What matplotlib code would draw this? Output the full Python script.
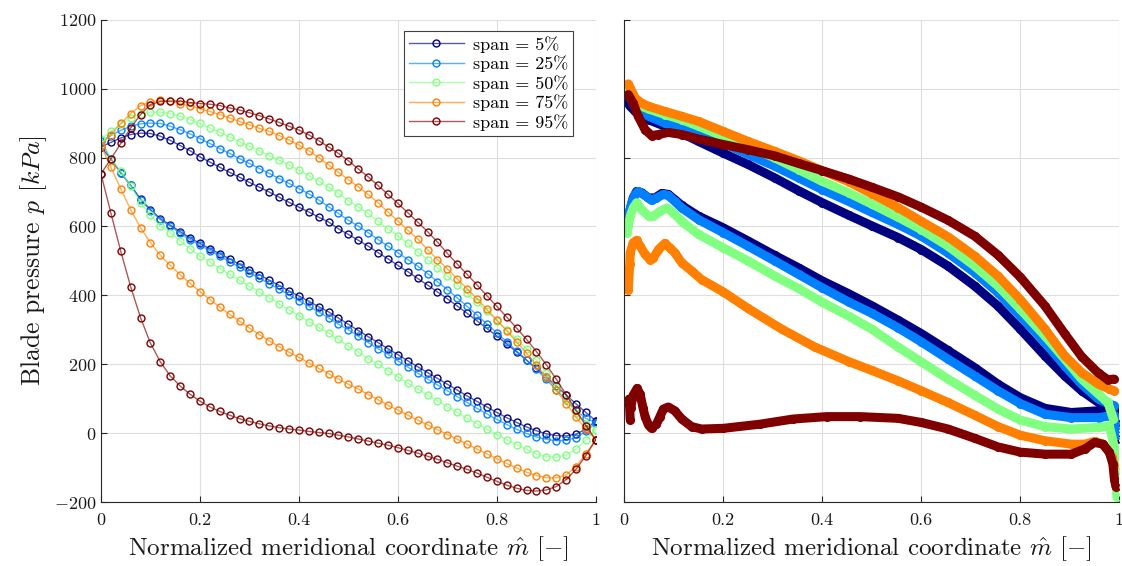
import numpy as np
import matplotlib
matplotlib.use('Agg')
import matplotlib.pyplot as plt

# Blade loading at five spans: left = coarse grid, right = fine grid

plt.rcParams['font.family'] = 'serif'
plt.rcParams['font.serif'] = ['cmr10']
plt.rcParams['mathtext.fontset'] = 'cm'
plt.rcParams['axes.formatter.use_mathtext'] = True

spans = ['5', '25', '50', '75', '95']
colors = ['#000080', '#0080ff', '#80ff80', '#ff8000', '#800000']

###### left panel (51 points, pressure side / suction side) ######
m_left = np.linspace(0, 1, 51)

L5_ps = [831, 844, 857, 867, 871, 870, 862, 850, 835, 820, 802, 787, 772, 757, 743, 728, 714, 700, 685, 670,
         656, 642, 627, 613, 593, 577, 560, 543, 524, 506, 487, 469, 449, 430, 410, 390, 369, 348, 326, 304,
         282, 259, 236, 212, 188, 163, 137, 111, 85, 60, 36]
L5_ss = [831, 796, 756, 719, 680, 649, 623, 604, 585, 567, 551, 535, 521, 506, 490, 475, 460, 444, 429, 413,
         398, 383, 367, 352, 334, 316, 298, 280, 263, 245, 228, 210, 193, 176, 159, 142, 125, 108, 92, 76,
         60, 45, 31, 18, 7, -2, -7, -8, -3, 12, 36]
L25_ps = [847, 864, 879, 891, 898, 900, 899, 891, 881, 869, 855, 841, 826, 812, 797, 783, 768, 754, 739, 725,
          710, 695, 677, 657, 638, 618, 601, 582, 562, 543, 524, 504, 485, 463, 440, 417, 393, 368, 343, 317,
          291, 265, 239, 212, 185, 156, 126, 96, 66, 43, 30]
L25_ss = [847, 796, 756, 719, 678, 646, 620, 601, 580, 562, 545, 530, 514, 498, 482, 466, 450, 434, 418, 401,
          385, 368, 352, 335, 316, 300, 281, 263, 245, 229, 210, 192, 174, 157, 140, 123, 106, 89, 72, 56,
          40, 25, 11, -1, -11, -18, -22, -21, -13, 5, 30]
L50_ps = [855, 876, 898, 915, 928, 932, 932, 928, 920, 910, 899, 886, 873, 860, 846, 833, 819, 806, 792, 779,
          764, 748, 732, 714, 696, 675, 657, 638, 615, 593, 572, 551, 527, 504, 480, 456, 431, 406, 380, 354,
          327, 300, 272, 244, 212, 175, 135, 95, 58, 28, 10]
L50_ss = [855, 796, 760, 717, 669, 633, 601, 582, 558, 536, 514, 497, 478, 461, 444, 427, 410, 393, 376, 358,
          341, 324, 307, 290, 272, 253, 236, 216, 200, 181, 163, 145, 128, 111, 94, 77, 60, 43, 27, 11,
          -4, -19, -33, -47, -60, -68, -70, -63, -46, -20, 10]
L75_ps = [835, 867, 899, 928, 951, 962, 966, 963, 957, 950, 942, 934, 925, 915, 905, 895, 885, 876, 864, 851,
          836, 820, 800, 779, 757, 736, 715, 693, 669, 642, 616, 589, 564, 533, 504, 477, 448, 419, 390, 359,
          328, 297, 265, 232, 198, 162, 124, 86, 47, 12, -19]
L75_ss = [835, 772, 709, 649, 596, 553, 516, 487, 460, 435, 411, 388, 366, 345, 325, 305, 286, 268, 251, 235,
          220, 204, 188, 173, 157, 142, 128, 112, 97, 81, 67, 52, 38, 24, 10, -4, -18, -32, -46, -60,
          -74, -88, -101, -113, -123, -129, -130, -121, -97, -60, -19]
L95_ps = [753, 796, 841, 886, 925, 954, 963, 964, 964, 960, 957, 955, 951, 944, 938, 930, 922, 912, 902, 891,
          880, 866, 849, 831, 812, 791, 767, 744, 719, 693, 667, 640, 613, 585, 555, 522, 491, 461, 430, 399,
          368, 337, 305, 272, 237, 199, 157, 112, 66, 22, -19]
L95_ss = [753, 639, 528, 425, 335, 261, 207, 166, 137, 113, 93, 76, 63, 52, 42, 34, 27, 21, 16, 12,
          9, 5, 2, -1, -6, -11, -17, -23, -29, -35, -42, -50, -58, -67, -76, -86, -96, -105, -116, -128,
          -140, -151, -160, -166, -168, -165, -155, -135, -105, -65, -19]

###### right panel (fine grid, read at sample points) ######
R5_ps_m = [0.005, 0.012, 0.022, 0.035, 0.049, 0.082, 0.116, 0.15, 0.2, 0.25, 0.304, 0.352, 0.4, 0.453, 0.5,
           0.553, 0.6, 0.654, 0.708, 0.755, 0.8, 0.85, 0.89, 0.924, 0.958, 0.98, 0.99]
R5_ps = [963, 949, 934, 920, 910, 891, 871, 847, 813, 780, 741, 704, 669, 633, 602,
         568, 533, 485, 427, 369, 302, 224, 166, 123, 89, 79, 75]
R5_ss_m = [0.005, 0.012, 0.018, 0.025, 0.035, 0.049, 0.062, 0.076, 0.089, 0.102, 0.116, 0.15, 0.2, 0.25, 0.304,
           0.352, 0.4, 0.453, 0.5, 0.553, 0.6, 0.654, 0.708, 0.755, 0.8, 0.85, 0.903, 0.958, 0.99, 0.994, 0.996]
R5_ss = [615, 649, 683, 702, 698, 683, 683, 696, 693, 678, 661, 630, 596, 558, 516,
         480, 442, 405, 370, 328, 289, 240, 190, 142, 103, 72, 60, 65, 75, 30, -17]

R25_ps_m = R5_ps_m
R25_ps = [987, 973, 949, 934, 920, 900, 886, 867, 842, 809, 775, 741, 707, 673, 641,
          606, 572, 523, 466, 408, 340, 263, 195, 142, 99, 84, 80]
R25_ss_m = [0.005, 0.008, 0.015, 0.022, 0.028, 0.042, 0.055, 0.065, 0.079, 0.089, 0.102, 0.116, 0.15, 0.2, 0.25,
            0.304, 0.352, 0.4, 0.453, 0.5, 0.553, 0.6, 0.654, 0.708, 0.755, 0.8, 0.85, 0.903, 0.958, 0.98, 0.99,
            0.994, 0.996]
R25_ss = [601, 630, 669, 693, 702, 690, 676, 683, 693, 690, 673, 654, 620, 582, 543,
          500, 461, 422, 381, 348, 306, 265, 215, 166, 123, 86, 55, 45, 45, 50, 52, 20, -5]

R50_ps_m = [0.0, 0.012, 0.022, 0.035, 0.049, 0.082, 0.116, 0.15, 0.2, 0.25, 0.304, 0.352, 0.4, 0.453, 0.5,
            0.553, 0.6, 0.654, 0.708, 0.755, 0.8, 0.85, 0.89, 0.924, 0.958, 0.977, 0.988]
R50_ps = [1002, 983, 963, 949, 941, 925, 910, 891, 862, 833, 799, 765, 731, 698, 665,
          627, 591, 543, 485, 427, 360, 282, 215, 157, 113, 89, 41]
R50_ss_m = [0.005, 0.008, 0.012, 0.018, 0.025, 0.035, 0.049, 0.059, 0.072, 0.086, 0.099, 0.116, 0.15, 0.2, 0.25,
            0.304, 0.352, 0.4, 0.453, 0.5, 0.553, 0.6, 0.654, 0.708, 0.755, 0.8, 0.85, 0.903, 0.958, 0.98,
            0.99, 0.993, 0.995]
R50_ss = [582, 601, 630, 654, 669, 649, 630, 630, 644, 654, 640, 615, 577, 538, 500,
          456, 420, 380, 340, 302, 250, 207, 157, 110, 70, 38, 19, 12, 17, 21, -40, -110, -186]

R75_ps_m = [0.008, 0.012, 0.022, 0.035, 0.049, 0.082, 0.116, 0.15, 0.2, 0.25, 0.304, 0.352, 0.4, 0.453, 0.5,
            0.553, 0.6, 0.654, 0.708, 0.755, 0.8, 0.85, 0.89, 0.924, 0.958, 0.98, 0.99]
R75_ps = [1014, 1002, 973, 958, 949, 934, 920, 905, 876, 847, 818, 791, 762, 730, 695,
          655, 615, 570, 514, 456, 388, 302, 224, 176, 142, 128, 123]
R75_ss_m = [0.008, 0.011, 0.012, 0.018, 0.025, 0.032, 0.042, 0.052, 0.059, 0.069, 0.082, 0.092, 0.102, 0.116,
            0.136, 0.156, 0.2, 0.25, 0.318, 0.385, 0.453, 0.5, 0.553, 0.6, 0.654, 0.708, 0.755, 0.8, 0.85,
            0.903, 0.93, 0.95, 0.967, 0.98, 0.985, 0.99]
R75_ss = [417, 490, 524, 553, 560, 543, 519, 504, 509, 533, 551, 538, 524, 495,
          471, 446, 410, 362, 302, 250, 208, 182, 152, 123, 89, 52, 19, -6, -22,
          -32, -32, -24, -32, -56, -70, -95]

R95_ps_m = [0.008, 0.018, 0.028, 0.042, 0.055, 0.069, 0.089, 0.116, 0.15, 0.2, 0.25, 0.304, 0.352, 0.4,
            0.453, 0.5, 0.553, 0.6, 0.654, 0.708, 0.755, 0.8, 0.85, 0.89, 0.924, 0.958, 0.977, 0.989]
R95_ps = [983, 958, 920, 881, 864, 867, 873, 867, 854, 838, 823, 805, 783, 762,
          738, 714, 686, 656, 618, 572, 517, 453, 369, 288, 222, 174, 155, 157]
R95_ss_m = [0.012, 0.010, 0.013, 0.018, 0.022, 0.026, 0.032, 0.038, 0.042, 0.049, 0.055, 0.065, 0.072, 0.079,
            0.089, 0.102, 0.116, 0.136, 0.156, 0.2, 0.274, 0.341, 0.409, 0.476, 0.553, 0.6, 0.654, 0.708,
            0.755, 0.8, 0.85, 0.903, 0.93, 0.95, 0.967, 0.98, 0.987, 0.99, 0.993]
R95_ss = [39, 99, 74, 110, 120, 130, 113, 72, 48, 23, 14, 26, 48, 70,
          76, 65, 41, 19, 12, 14, 26, 41, 48, 48, 43, 31, 12, -15,
          -40, -55, -61, -61, -46, -27, -32, -56, -90, -133, -155]

left_ps = [L5_ps, L25_ps, L50_ps, L75_ps, L95_ps]
left_ss = [L5_ss, L25_ss, L50_ss, L75_ss, L95_ss]
right_ps = [(R5_ps_m, R5_ps), (R25_ps_m, R25_ps), (R50_ps_m, R50_ps), (R75_ps_m, R75_ps), (R95_ps_m, R95_ps)]
right_ss = [(R5_ss_m, R5_ss), (R25_ss_m, R25_ss), (R50_ss_m, R50_ss), (R75_ss_m, R75_ss), (R95_ss_m, R95_ss)]

fig = plt.figure(figsize=(11.22, 5.66), dpi=100)
ax1 = fig.add_axes([0.090, 0.113, 0.441, 0.852])
ax2 = fig.add_axes([0.5564, 0.113, 0.4412, 0.852])

axcol = '#262626'
for ax in (ax1, ax2):
    ax.set_xlim(0, 1)
    ax.set_ylim(-200, 1200)
    ax.set_xticks(np.arange(0, 1.01, 0.2))
    ax.set_xticklabels(['0', '0.2', '0.4', '0.6', '0.8', '1'])
    ax.set_yticks(np.arange(-200, 1201, 200))
    ax.grid(True, color='#dedede', lw=0.8)
    ax.set_axisbelow(True)
    for s in ('top', 'right'):
        ax.spines[s].set_visible(False)
    for s in ('left', 'bottom'):
        ax.spines[s].set_color(axcol)
        ax.spines[s].set_linewidth(0.8)
    ax.tick_params(direction='in', length=4, width=0.8, colors=axcol, labelsize=13, labelcolor='#1a1a1a')
    ax.tick_params(axis='x', pad=8)
    ax.set_xlabel(r'Normalized meridional coordinate $\hat{m}$ $[-]$', fontsize=18, color='#1a1a1a', labelpad=4)

ax2.tick_params(labelleft=False)
ax1.set_ylabel(r'Blade pressure $p$ $[kPa]$', fontsize=18.5, color='#1a1a1a', labelpad=3)

for i in range(5):
    c = matplotlib.colors.to_rgb(colors[i])
    lc = c + (0.65,)
    ax1.plot(m_left, left_ps[i], '-o', color=lc, lw=1.0, ms=5, mfc='none', mec=c, mew=1.0,
             label=f'span = {spans[i]}%')
    ax1.plot(m_left, left_ss[i], '-o', color=lc, lw=1.0, ms=5, mfc='none', mec=c, mew=1.0)

for i in range(5):
    c = colors[i]
    for m, p in (right_ps[i], right_ss[i]):
        ax2.plot(m, p, '-', color=c, lw=6.5, solid_joinstyle='round', solid_capstyle='round')
        ax2.plot(m, p, 'o', ms=5.5, mfc='none', mec=c, mew=1.0)

leg = ax1.legend(loc='upper right', bbox_to_anchor=(0.962, 0.985), fontsize=13, handlelength=3.0,
                 fancybox=False, framealpha=1, edgecolor='#404040', borderpad=0.3, labelspacing=0.15,
                 handletextpad=0.5, borderaxespad=0.2)
leg.get_frame().set_linewidth(0.8)

fig.savefig('out.png', dpi=100)
